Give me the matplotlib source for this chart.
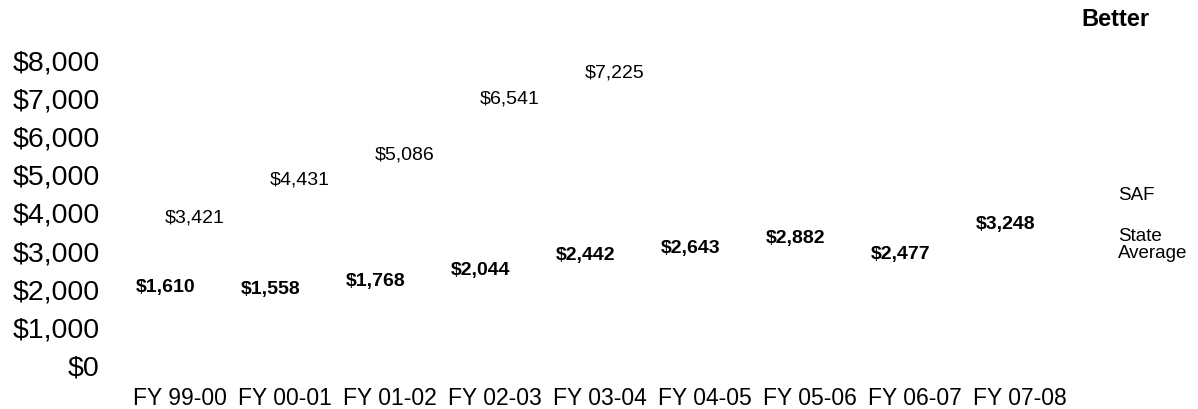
import numpy as np
import matplotlib
matplotlib.use('Agg')
import matplotlib.pyplot as plt
from matplotlib.ticker import FuncFormatter

plt.rcParams['font.family'] = ['Liberation Sans', 'DejaVu Sans']

years = ["FY 99-00", "FY 00-01", "FY 01-02", "FY 02-03", "FY 03-04",
         "FY 04-05", "FY 05-06", "FY 06-07", "FY 07-08"]
saf = [3421, 4431, 5086, 6541, 7225]
state_avg = [1610, 1558, 1768, 2044, 2442, 2643, 2882, 2477, 3248]

W, H = 1198, 409
fig = plt.figure(figsize=(W / 100, H / 100), dpi=100)
ax = fig.add_axes([127.5 / W, 1 - 366 / H, 945 / W, 306 / H])

x = np.arange(len(years))
bw = 0.28
# the bars themselves are not visible in the source picture, only their labels
b_state = ax.bar(x - bw / 2, state_avg, bw, color='none', edgecolor='none')
b_saf = ax.bar(x[:len(saf)] + bw / 2, saf, bw, color='none', edgecolor='none')
ax.bar_label(b_state, labels=["${:,}".format(v) for v in state_avg],
             padding=6, fontsize=14, fontweight='bold', clip_on=False)
ax.bar_label(b_saf, labels=["${:,}".format(v) for v in saf],
             padding=6, fontsize=14, clip_on=False)

ax.set_xlim(-0.5, len(years) - 0.5)
ax.set_ylim(0, 8000)
ax.set_yticks(np.arange(0, 8001, 1000))
ax.yaxis.set_major_formatter(FuncFormatter(lambda v, p: "${:,.0f}".format(v)))
ax.set_xticks(x)
ax.set_xticklabels(years)
ax.tick_params(axis='y', length=0, pad=20, labelsize=20.5)
ax.tick_params(axis='x', length=0, pad=15, labelsize=16.5)
for s in ax.spines.values():
    s.set_visible(False)

fig.text(1115 / W, 1 - 19 / H, "Better", ha='center', va='center',
         fontsize=17, fontweight='bold')
fig.text(1118 / W, 1 - 196 / H, "SAF", ha='left', va='center', fontsize=13.5)
fig.text(1118 / W, 1 - 245 / H, "State\nAverage", ha='left', va='center',
         fontsize=13.5, linespacing=1.0)

fig.savefig('out.png', dpi=100)
